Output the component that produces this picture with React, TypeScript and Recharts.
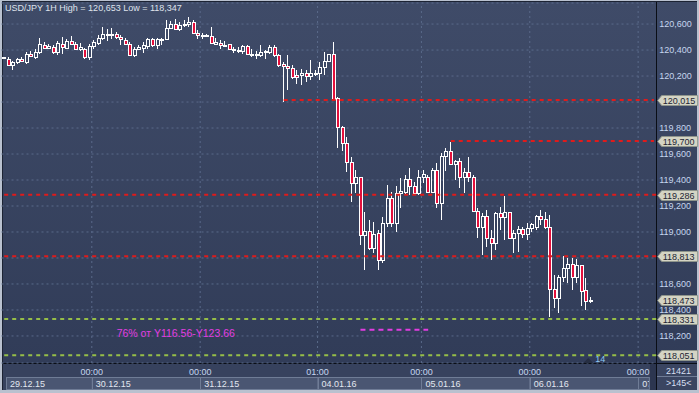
import React from "react";
import { ComposedChart, Bar, XAxis, YAxis, CartesianGrid, ReferenceLine, ReferenceDot } from "recharts";

// USD/JPY 1H candles (29.12.15 -> 06.01.16)
const opens = [
  120.342, 120.333, 120.282, 120.308, 120.333, 120.308, 120.372, 120.346, 120.385, 120.441,
  120.415, 120.423, 120.385, 120.449, 120.418, 120.467, 120.444, 120.410, 120.410, 120.346,
  120.428, 120.456, 120.492, 120.523, 120.521, 120.520, 120.500, 120.479, 120.449, 120.364,
  120.405, 120.415, 120.431, 120.482, 120.441, 120.484, 120.487, 120.572, 120.598, 120.559,
  120.598, 120.598, 120.615, 120.533, 120.518, 120.518, 120.505, 120.449, 120.454, 120.441,
  120.444, 120.410, 120.390, 120.390, 120.431, 120.372, 120.370, 120.364, 120.385, 120.385,
  120.423, 120.364, 120.290, 120.277, 120.262, 120.210, 120.205, 120.223, 120.198, 120.223,
  120.223, 120.269, 120.313, 120.367, 120.029, 119.810, 119.682, 119.541, 119.375, 119.421,
  118.977, 119.010, 118.874, 118.990, 118.785, 119.067, 119.259, 119.072, 119.303, 119.310,
  119.405, 119.354, 119.303, 119.421, 119.426, 119.310, 119.477, 119.221, 119.585, 119.623,
  119.521, 119.546, 119.421, 119.459, 119.426, 119.164, 119.041, 119.123, 118.951, 118.918,
  119.144, 119.113, 119.151, 118.956, 118.990, 119.020, 118.982, 119.028, 119.041, 119.123,
  119.097, 119.041, 118.559, 118.490, 118.651, 118.721, 118.751, 118.656, 118.746, 118.554,
  118.472,
];
const highs = [
  120.350, 120.346, 120.315, 120.341, 120.346, 120.385, 120.392, 120.405, 120.495, 120.462,
  120.449, 120.436, 120.467, 120.500, 120.482, 120.505, 120.462, 120.456, 120.415, 120.444,
  120.474, 120.513, 120.577, 120.564, 120.569, 120.538, 120.513, 120.492, 120.462, 120.423,
  120.436, 120.462, 120.492, 120.492, 120.492, 120.492, 120.628, 120.621, 120.636, 120.615,
  120.628, 120.653, 120.628, 120.552, 120.533, 120.526, 120.577, 120.495, 120.474, 120.467,
  120.449, 120.423, 120.423, 120.441, 120.441, 120.405, 120.390, 120.441, 120.398, 120.436,
  120.436, 120.372, 120.308, 120.359, 120.282, 120.244, 120.256, 120.244, 120.321, 120.246,
  120.308, 120.385, 120.372, 120.462, 120.041, 119.815, 119.733, 119.579, 119.477, 119.426,
  119.156, 119.092, 119.079, 119.015, 119.118, 119.362, 119.310, 119.354, 119.413, 119.438,
  119.495, 119.387, 119.477, 119.477, 119.438, 119.490, 119.528, 119.605, 119.644, 119.695,
  119.554, 119.567, 119.490, 119.579, 119.438, 119.182, 119.144, 119.169, 119.015, 119.156,
  119.190, 119.277, 119.156, 119.015, 119.046, 119.041, 119.067, 119.072, 119.131, 119.169,
  119.156, 119.131, 118.669, 118.669, 118.815, 118.798, 118.798, 118.790, 118.746, 118.644,
  118.503,
];
const lows = [
  120.335, 120.277, 120.244, 120.295, 120.305, 120.295, 120.346, 120.333, 120.372, 120.405,
  120.405, 120.372, 120.359, 120.372, 120.405, 120.436, 120.398, 120.390, 120.333, 120.320,
  120.405, 120.436, 120.474, 120.467, 120.487, 120.487, 120.441, 120.436, 120.359, 120.346,
  120.398, 120.379, 120.410, 120.423, 120.410, 120.436, 120.474, 120.564, 120.552, 120.544,
  120.577, 120.577, 120.526, 120.487, 120.487, 120.500, 120.444, 120.436, 120.410, 120.423,
  120.398, 120.379, 120.379, 120.372, 120.359, 120.346, 120.328, 120.346, 120.333, 120.372,
  120.346, 120.269, 120.000, 120.090, 120.179, 120.141, 120.128, 120.154, 120.167, 120.200,
  120.167, 120.205, 120.308, 120.013, 119.644, 119.625, 119.464, 119.233, 119.298, 118.900,
  118.708, 118.862, 118.836, 118.708, 118.764, 119.041, 119.041, 119.003, 119.182, 119.285,
  119.285, 119.285, 119.285, 119.375, 119.298, 119.298, 119.182, 119.092, 119.472, 119.515,
  119.400, 119.336, 119.298, 119.387, 119.156, 118.951, 118.823, 118.887, 118.785, 118.862,
  119.015, 118.938, 118.944, 118.836, 118.849, 118.951, 118.938, 119.003, 119.015, 119.054,
  119.023, 118.347, 118.413, 118.375, 118.618, 118.605, 118.554, 118.610, 118.431, 118.400,
  118.452,
];
const closes = [
  120.344, 120.282, 120.308, 120.333, 120.313, 120.372, 120.354, 120.385, 120.444, 120.415,
  120.428, 120.385, 120.456, 120.423, 120.467, 120.444, 120.410, 120.423, 120.346, 120.431,
  120.462, 120.492, 120.526, 120.526, 120.522, 120.500, 120.482, 120.449, 120.364, 120.405,
  120.426, 120.436, 120.482, 120.441, 120.487, 120.487, 120.572, 120.602, 120.559, 120.595,
  120.602, 120.615, 120.533, 120.518, 120.513, 120.505, 120.456, 120.462, 120.436, 120.438,
  120.410, 120.402, 120.402, 120.431, 120.372, 120.364, 120.373, 120.385, 120.390, 120.423,
  120.364, 120.282, 120.277, 120.262, 120.192, 120.192, 120.223, 120.198, 120.223, 120.224,
  120.269, 120.313, 120.367, 120.026, 119.810, 119.682, 119.541, 119.375, 119.421, 118.977,
  119.010, 118.874, 118.985, 118.785, 119.067, 119.259, 119.072, 119.303, 119.318, 119.405,
  119.354, 119.303, 119.421, 119.444, 119.310, 119.477, 119.221, 119.585, 119.623, 119.521,
  119.546, 119.421, 119.459, 119.426, 119.164, 119.041, 119.123, 118.951, 118.918, 119.144,
  119.113, 119.151, 118.956, 118.990, 119.020, 118.982, 119.028, 119.059, 119.123, 119.097,
  119.036, 118.559, 118.490, 118.651, 118.721, 118.751, 118.656, 118.746, 118.549, 118.472,
  118.473,
];

// price axis ticks; the two under the level tags are not printed
const yTicks = [118.2, 118.4, 118.6, 118.8, 119.0, 119.2, 119.4, 119.6, 119.8, 120.0, 120.2, 120.4, 120.6];
const coveredTicks = [118.8, 120.0];

// day boundaries: last hourly slot of the previous session
const dayStarts = [
  { slot: 0, time: "", date: "29.12.15" },
  { slot: 19, time: "00:00", date: "30.12.15" },
  { slot: 43, time: "00:00", date: "31.12.15" },
  { slot: 69, time: "01:00", date: "04.01.16" },
  { slot: 92, time: "00:00", date: "05.01.16" },
  { slot: 116, time: "00:00", date: "06.01.16" },
  { slot: 140, time: "00:00", date: "07.01.16" },
];

// levels drawn on the chart
const redLevels = [119.286, 118.813];
const redSegments = [
  { from: 62, price: 120.015 },
  { from: 99, price: 119.7 },
];
const greenLevels = [118.331, 118.051];
const fiboSegment = { from: 79, to: 94, price: 118.248 };
const fiboNote = { slot: 25, price: 118.222, text: "76% от Y116.56-Y123.66" };
const countNote = { slot: 131, price: 118.019, text: "14" };
const priceTags = [120.015, 119.7, 119.286, 118.813, 118.473, 118.331, 118.051];

const W = 699;
const H = 393;
const PLOT_L = 1.5;
const PLOT_R = 656.2;
const PLOT_T = 3;
const PLOT_B = 363;
const SLOTS = 145;
const LAST_SLOT = SLOTS - 1;
const BAND = (PLOT_R - PLOT_L) / SLOTS;
const Y_MIN = 117.992;
const Y_MAX = 120.762;

const FONT = "'Liberation Sans', Arial, Helvetica, sans-serif";
const GRID = "#5a6a8a";
const RED = "#e01b1b";
const GREEN = "#96be48";
const MAGENTA = "#e23de2";
const BEAR = "#e3103c";

const fmt = (v: number) => v.toFixed(3).replace(".", ",");
const tickFmt = (v: number) => (coveredTicks.some((c) => Math.abs(c - v) < 1e-6) ? "" : fmt(v));

const data = Array.from({ length: SLOTS }, (_, i) =>
  i < opens.length
    ? { slot: i, range: [lows[i], highs[i]], open: opens[i], high: highs[i], low: lows[i], close: closes[i] }
    : { slot: i, range: null }
);

function Candle(props: any) {
  const { x, y, width, height, payload } = props;
  if (!payload || payload.open == null || !isFinite(y) || !isFinite(height)) return null;
  const { open, high, low, close } = payload;
  const top = Math.min(y, y + height);
  const h = Math.abs(height);
  const span = high - low;
  const py = (v: number) => top + (span > 0 ? ((high - v) / span) * h : 0);
  const n = Math.round(x + width / 2);
  const wx = n - 0.5;
  const bTop = Math.round(py(Math.max(open, close))) + 0.5;
  let bBot = Math.round(py(Math.min(open, close))) + 0.5;
  if (bBot - bTop < 1) bBot = bTop + 1;
  const bear = close < open;
  return (
    <g>
      <line x1={wx} x2={wx} y1={Math.round(py(high))} y2={bTop} stroke="#ffffff" strokeWidth={1} />
      <line x1={wx} x2={wx} y1={bBot} y2={Math.round(py(low))} stroke="#ffffff" strokeWidth={1} />
      <rect x={n - 1.5} y={bTop} width={3} height={bBot - bTop} fill={bear ? BEAR : "none"} stroke="#ffffff" strokeWidth={1} />
    </g>
  );
}

function PriceTag(props: any) {
  const { viewBox, price } = props;
  if (!viewBox) return null;
  const right = viewBox.x2 != null ? Math.max(viewBox.x1, viewBox.x2) : viewBox.x + viewBox.width;
  const yy = viewBox.y1 != null ? viewBox.y1 : viewBox.y;
  const y = Math.round(yy) + 0.5;
  const x0 = right + 1.5;
  const pts = `${x0},${y} ${x0 + 4},${y - 5} ${x0 + 40},${y - 5} ${x0 + 40},${y + 5} ${x0 + 4},${y + 5}`;
  return (
    <g>
      <polygon points={pts} fill="#d4d4c4" stroke="#8f958c" strokeWidth={1} />
      <text x={x0 + 5} y={y + 0.5} fontSize={9} fontFamily={FONT} fill="#1d2433" dominantBaseline="central">
        {fmt(price)}
      </text>
    </g>
  );
}

function TimeTick(props: any) {
  const { x, payload } = props;
  const k = dayStarts.findIndex((d) => d.slot === payload.value);
  if (k < 0) return null;
  const d = dayStarts[k];
  const xr = x + BAND / 2;
  const last = k + 1 >= dayStarts.length;
  const next = last ? LAST_SLOT + 1 : dayStarts[k + 1].slot;
  const w = Math.min((next - d.slot) * BAND, 649 - xr);
  const clipId = "dateclip" + k;
  return (
    <g>
      <defs>
        <clipPath id={clipId}>
          <rect x={xr} y={376} width={w} height={15} />
        </clipPath>
      </defs>
      {d.time && (
        <text x={xr} y={PLOT_B + 9} fontSize={9} fontFamily={FONT} fill="#c6d6ee" textAnchor="middle" dominantBaseline="central">
          {d.time}
        </text>
      )}
      <rect x={Math.round(xr) + 0.5} y={377.5} width={w} height={12} fill="#4a5672" stroke="#6f7c96" strokeWidth={1} />
      <text x={xr + 4} y={384} fontSize={9} fontFamily={FONT} fill="#e2e7f0" dominantBaseline="central" clipPath={`url(#${clipId})`}>
        {d.date}
      </text>
    </g>
  );
}

function NoteText(props: any) {
  const { cx, cy } = props;
  return (
    <text x={cx} y={cy} fontSize={10.5} fontFamily={FONT} fill={MAGENTA} dominantBaseline="central">
      {fiboNote.text}
    </text>
  );
}

function CountMark(props: any) {
  const { cx, cy } = props;
  return (
    <g>
      <polygon points={`${cx - 12},${cy + 3.5} ${cx - 7},${cy - 1.5} ${cx - 2},${cy + 3.5}`} fill="#262e42" />
      <text x={cx} y={cy} fontSize={9} fontFamily={FONT} fill="#8fc8f2" dominantBaseline="central">
        {countNote.text}
      </text>
    </g>
  );
}

export default function App() {
  return (
    <div style={{ position: "absolute", left: 0, top: 0, width: W, height: H, background: "#b9c1cf", overflow: "hidden", fontFamily: FONT }}>
      <div style={{ position: "absolute", left: 2, top: 1, width: 695, height: 389, background: "#1c2333" }} />
      <div style={{ position: "absolute", left: 3, top: 2, width: 694, height: 361, background: "linear-gradient(#3f4b68, #313c58)" }} />
      <div style={{ position: "absolute", left: 3, top: 364, width: 694, height: 26, background: "#37425e" }} />
      <div style={{ position: "absolute", left: 656, top: 2, width: 1, height: 388, background: "#0a0e16" }} />
      <div style={{ position: "absolute", left: 3, top: 363, width: 694, height: 1, background: "#0a0e16" }} />

      <div style={{ position: "absolute", left: 0, top: 0 }}>
        <ComposedChart width={W} height={H} data={data} margin={{ top: PLOT_T, right: 0, bottom: 0, left: PLOT_L }} barCategoryGap={0}>
          <CartesianGrid vertical={false} stroke={GRID} strokeDasharray="2 3" />
          <XAxis
            dataKey="slot"
            type="category"
            height={H - PLOT_B}
            ticks={dayStarts.map((d) => d.slot)}
            interval={0}
            tick={TimeTick}
            axisLine={false}
            tickLine={false}
          />
          <YAxis
            orientation="right"
            width={W - PLOT_R}
            domain={[Y_MIN, Y_MAX]}
            allowDataOverflow
            ticks={yTicks}
            interval={0}
            axisLine={false}
            tickLine={false}
            tickSize={0}
            tickMargin={3}
            tickFormatter={tickFmt}
            tick={{ fill: "#c6d6ee", fontSize: 9, fontFamily: FONT }}
          />
          {dayStarts.slice(1).map((d) => (
            <ReferenceLine key={"g" + d.slot} x={d.slot} position="end" stroke={GRID} strokeDasharray="2 3" zIndex={-100} />
          ))}
          <Bar dataKey="range" shape={Candle} barSize={3} isAnimationActive={false} />
          {redLevels.map((p) => (
            <ReferenceLine key={"r" + p} y={p} stroke={RED} strokeWidth={2} strokeDasharray="4 4" />
          ))}
          {redSegments.map((s) => (
            <ReferenceLine
              key={"s" + s.price}
              segment={[{ x: s.from, y: s.price }, { x: LAST_SLOT, y: s.price }]}
              stroke={RED}
              strokeWidth={2}
              strokeDasharray="4 4"
            />
          ))}
          {greenLevels.map((p) => (
            <ReferenceLine key={"gr" + p} y={p} stroke={GREEN} strokeWidth={2} strokeDasharray="4 4" />
          ))}
          <ReferenceLine
            segment={[{ x: fiboSegment.from, y: fiboSegment.price }, { x: fiboSegment.to, y: fiboSegment.price }]}
            stroke={MAGENTA}
            strokeWidth={2}
            strokeDasharray="5 4"
          />
          <ReferenceDot x={fiboNote.slot} y={fiboNote.price} r={0} shape={NoteText} />
          <ReferenceDot x={countNote.slot} y={countNote.price} r={0} shape={CountMark} />
          {priceTags.map((p) => (
            <ReferenceLine key={"t" + p} y={p} strokeOpacity={0} label={<PriceTag price={p} />} />
          ))}
        </ComposedChart>
      </div>

      <div style={{ position: "absolute", left: 5, top: 3, fontSize: 9, lineHeight: "10px", color: "#dfe3ec", whiteSpace: "nowrap" }}>
        USD/JPY 1H High = 120,653 Low = 118,347
      </div>
      <div style={{ position: "absolute", left: 650, top: 364, width: 6, height: 26, background: "#2c3650" }} />
      <div style={{ position: "absolute", left: 657, top: 364, width: 40, height: 26, background: "#3a4561" }}>
        <div style={{ position: "absolute", left: 0, top: 12, width: 40, height: 1, background: "#6f7c96" }} />
        <div style={{ position: "absolute", left: 9, top: 2, fontSize: 9, lineHeight: "10px", color: "#d6dff0" }}>21421</div>
        <div style={{ position: "absolute", left: 9, top: 14, fontSize: 9, lineHeight: "10px", color: "#d6dff0" }}>&gt;145&lt;</div>
      </div>
    </div>
  );
}
